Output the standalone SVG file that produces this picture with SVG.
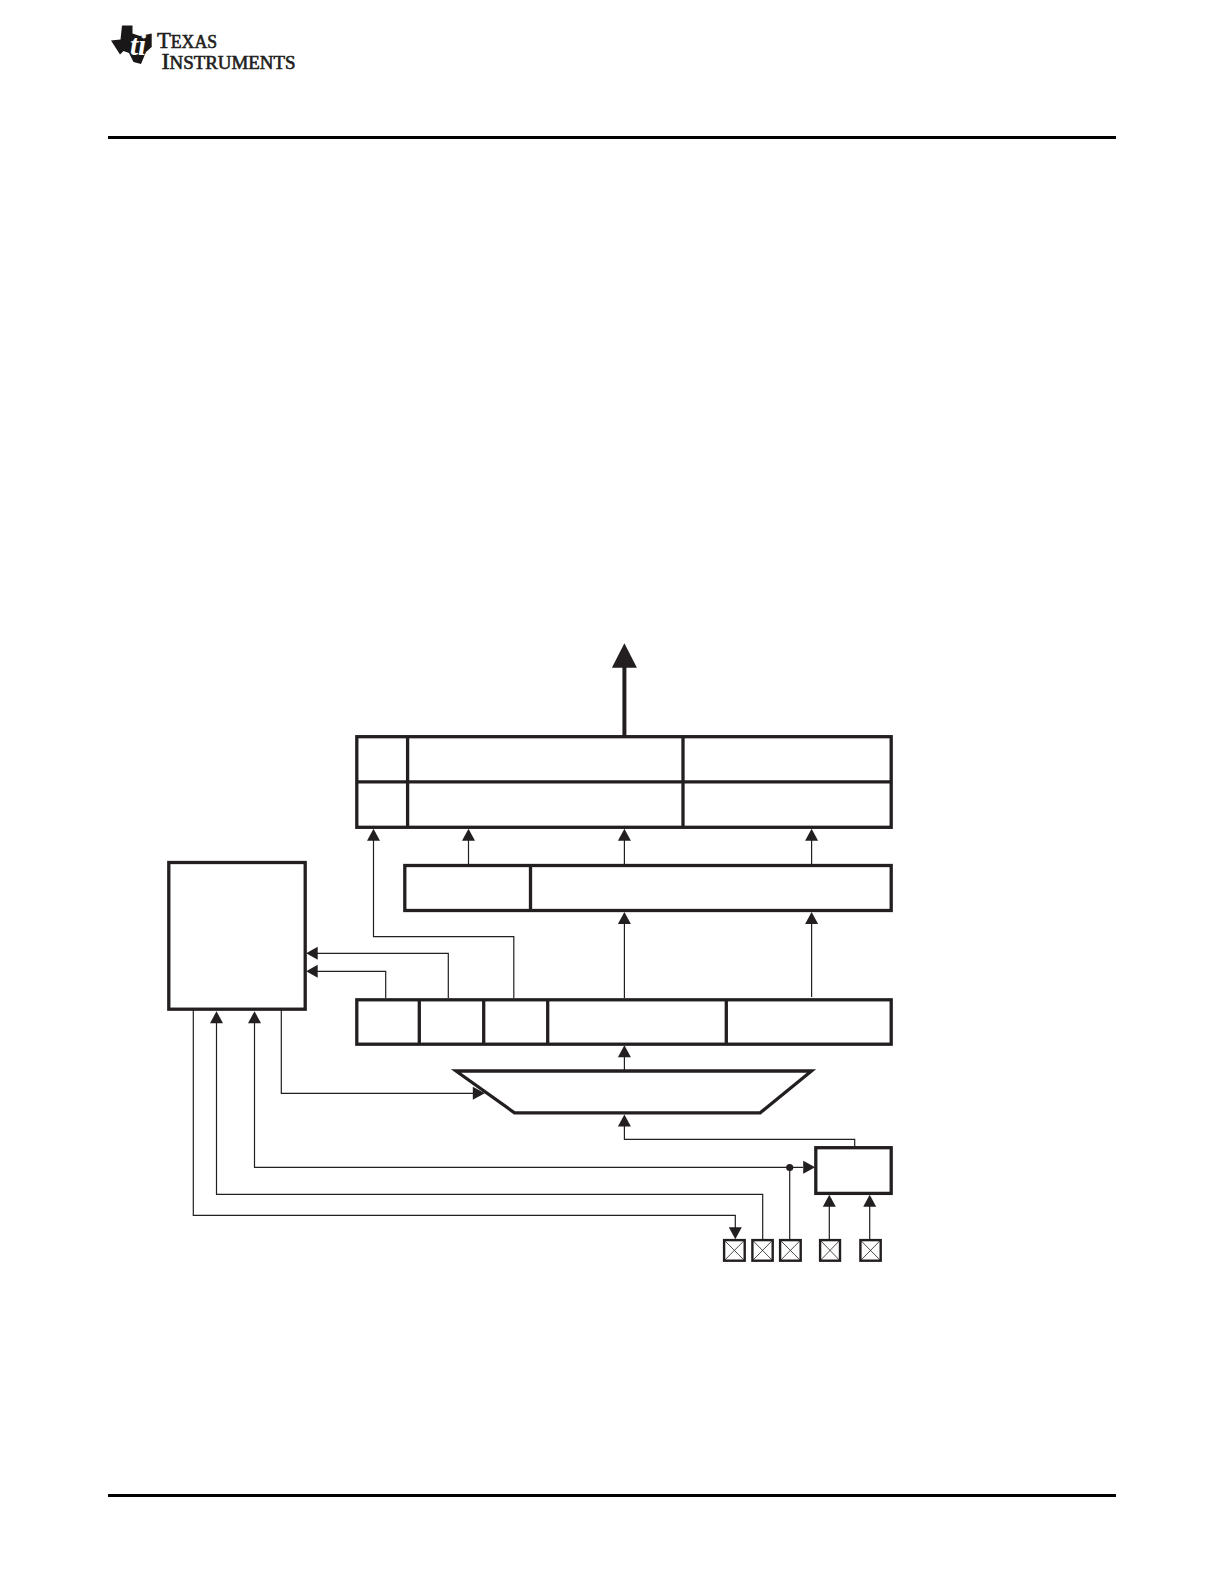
<svg xmlns="http://www.w3.org/2000/svg" width="1224" height="1584" viewBox="0 0 1224 1584">
<style>
.b{fill:#fff;stroke:#231f20;stroke-width:3.3;stroke-miterlimit:10}
.d{fill:none;stroke:#231f20;stroke-width:3.3}
.c{fill:none;stroke:#231f20;stroke-width:1.2}
.h{fill:#231f20;stroke:none}
.p{fill:#fff;stroke:#231f20;stroke-width:2.4}
.x{fill:none;stroke:#231f20;stroke-width:.8}
.r{fill:none;stroke:#000;stroke-width:3}
.l{font-family:"Liberation Serif",serif;fill:#231f20;stroke:#231f20;stroke-width:.6}
</style>
<defs>
<path id="up" class="h" d="M0 -.5L6.5 11.5L-6.5 11.5Z"/>
<path id="left" class="h" d="M-.5 0L11 -6.5L11 6.5Z"/>
<path id="right" class="h" d="M.5 0L-11.5 -6.5L-11.5 6.5Z"/>
<path id="down" class="h" d="M0 .5L6.5 -11.5L-6.5 -11.5Z"/>
</defs>
<g id="logo">
<path fill="#1a1718" d="M111 40.5L120.5 39.5L122 25.5L132.5 25.5L132.5 33.5L140 36L151.7 33.5L151.7 47L146 52L141 64L133.5 62L129 53L123.5 51L120 54.5Z"/>
<text x="130" y="55" font-family="'Liberation Serif',serif" font-style="italic" font-weight="700" font-size="29" fill="#fff">ti</text>
<text class="l" x="157" y="48.3" font-size="18" textLength="60" lengthAdjust="spacingAndGlyphs"><tspan font-size="23">T</tspan>EXAS</text>
<text class="l" x="161.5" y="69" font-size="18" textLength="134" lengthAdjust="spacingAndGlyphs"><tspan font-size="23">I</tspan>NSTRUMENTS</text>
</g>
<g id="rules">
<line class="r" x1="108" y1="137.5" x2="1116" y2="137.5"/>
<line class="r" x1="108" y1="1495.5" x2="1116" y2="1495.5"/>
</g>
<g id="connectors">
<path class="c" d="M373.5 840V936.7H513.8V998"/>
<path class="c" d="M468.5 840V865"/>
<path class="c" d="M624.4 840V865"/>
<path class="c" d="M811.6 840V865"/>
<path class="c" d="M624.4 923V998"/>
<path class="c" d="M811.6 923V997"/>
<path class="c" d="M316 953.3H448.3V998"/>
<path class="c" d="M316 971.3H385.7V998"/>
<path class="c" d="M624.4 1057V1071"/>
<path class="c" d="M624.4 1126V1139.3H854.7V1147"/>
<path class="c" d="M281.3 1009V1093.3H473"/>
<path class="c" d="M254.5 1023V1167.3H803"/>
<path class="c" d="M216.5 1023V1194.3H762.7V1240"/>
<path class="c" d="M193.3 1009V1215.3H735.3V1228"/>
<path class="c" d="M789.7 1167.3V1240"/>
<path class="c" d="M829.3 1206V1240"/>
<path class="c" d="M869.7 1206V1240"/>
<line x1="624.4" y1="666" x2="624.4" y2="737" stroke="#231f20" stroke-width="4"/>
<path class="h" d="M624.4 643.3L636.9 667.7L611.9 667.7Z"/>
</g>
<g id="output-register">
<rect class="b" x="356.8" y="736.7" width="534.4" height="90.6"/>
<line class="d" x1="356.8" y1="781.9" x2="891.2" y2="781.9"/>
<line class="d" x1="407.6" y1="736.7" x2="407.6" y2="827.3"/>
<line class="d" x1="683" y1="736.7" x2="683" y2="827.3"/>
</g>
<g id="holding-register">
<rect class="b" x="404.8" y="865.5" width="486.4" height="45"/>
<line class="d" x1="530.5" y1="865.5" x2="530.5" y2="910.5"/>
</g>
<g id="control-block"><rect class="b" x="168.8" y="862.5" width="136.4" height="146.7"/></g>
<g id="data-register">
<rect class="b" x="356.8" y="999.8" width="534.4" height="44.4"/>
<line class="d" x1="419.3" y1="999.8" x2="419.3" y2="1044.2"/>
<line class="d" x1="483.7" y1="999.8" x2="483.7" y2="1044.2"/>
<line class="d" x1="547.7" y1="999.8" x2="547.7" y2="1044.2"/>
<line class="d" x1="726.3" y1="999.8" x2="726.3" y2="1044.2"/>
</g>
<g id="converter"><path class="b" d="M456 1071H811.5L760.2 1112.8H514.5Z"/></g>
<g id="mux-box"><rect class="b" x="815.8" y="1147.7" width="75.4" height="45.7"/></g>
<g id="pads">
<g id="pad-1"><rect class="p" x="724.1" y="1240.1" width="20.6" height="20.6"/><path class="x" d="M724.1 1240.1L744.7 1260.7M744.7 1240.1L724.1 1260.7"/></g>
<g id="pad-2"><rect class="p" x="752.4" y="1240.1" width="20.3" height="20.6"/><path class="x" d="M752.4 1240.1L772.7 1260.7M772.7 1240.1L752.4 1260.7"/></g>
<g id="pad-3"><rect class="p" x="780.1" y="1240.1" width="20.6" height="20.6"/><path class="x" d="M780.1 1240.1L800.7 1260.7M800.7 1240.1L780.1 1260.7"/></g>
<g id="pad-4"><rect class="p" x="820.1" y="1240.1" width="19.9" height="20.6"/><path class="x" d="M820.1 1240.1L840 1260.7M840 1240.1L820.1 1260.7"/></g>
<g id="pad-5"><rect class="p" x="860.4" y="1240.1" width="20.3" height="20.6"/><path class="x" d="M860.4 1240.1L880.7 1260.7M880.7 1240.1L860.4 1260.7"/></g>
</g>
<g id="arrowheads">
<use href="#up" x="373.5" y="829.3"/>
<use href="#up" x="468.5" y="829.3"/>
<use href="#up" x="624.4" y="829.3"/>
<use href="#up" x="811.6" y="829.3"/>
<use href="#up" x="624.4" y="912.5"/>
<use href="#up" x="811.6" y="912.5"/>
<use href="#left" x="306.7" y="953.3"/>
<use href="#left" x="306.7" y="971.3"/>
<use href="#up" x="216.5" y="1011.7"/>
<use href="#up" x="254.5" y="1011.7"/>
<use href="#up" x="624.4" y="1045.7"/>
<use href="#up" x="624.4" y="1115"/>
<use href="#right" x="484.3" y="1093.3"/>
<use href="#right" x="814.7" y="1167.3"/>
<use href="#down" x="735.3" y="1238.7"/>
<use href="#up" x="829.3" y="1195.3"/>
<use href="#up" x="869.7" y="1195.3"/>
<circle class="h" cx="789.7" cy="1167.5" r="3.6"/>
</g>
</svg>
